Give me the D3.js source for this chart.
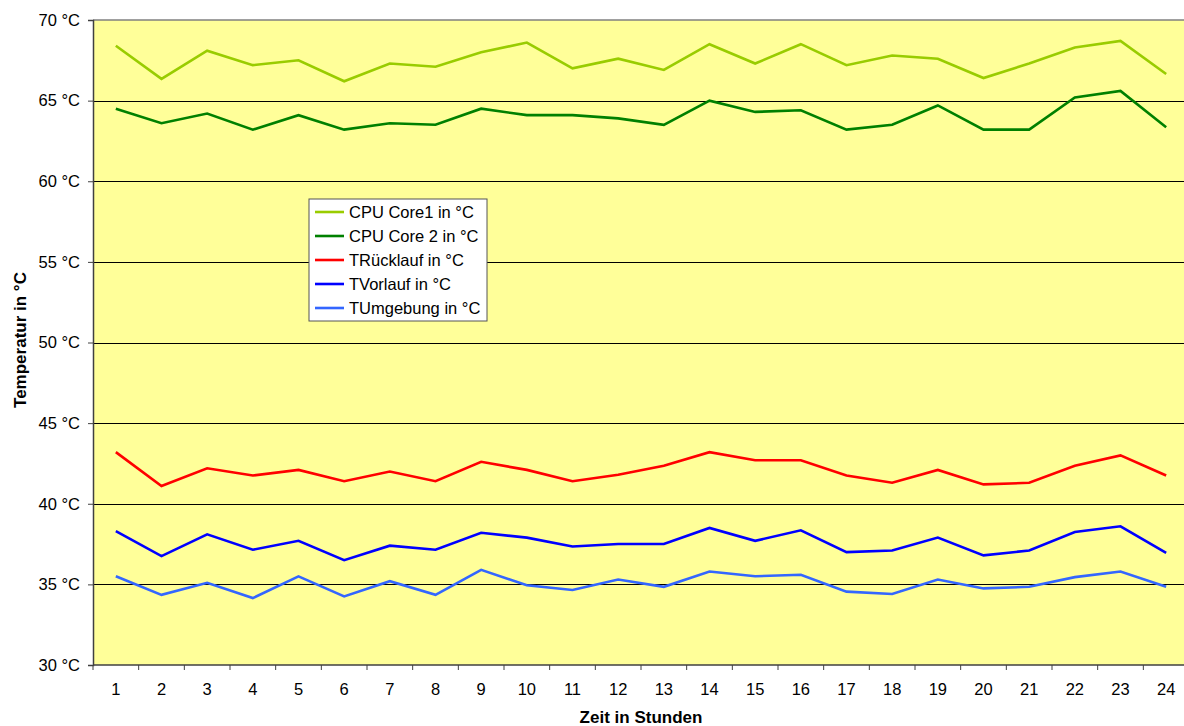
<!DOCTYPE html>
<html>
<head>
<meta charset="utf-8">
<script src="https://cdn.jsdelivr.net/npm/d3@7"></script>
<style>
  body { margin: 0; background: #fff; }
  svg text { font-family: "Liberation Sans", Arial, sans-serif; fill: #000; }
</style>
</head>
<body>
<script>
const svgW = 1184;
const svgH = 726;

// Daten
const hours = d3.range(1, 25);
const yTicks = [30, 35, 40, 45, 50, 55, 60, 65, 70];
const seriesNames = ['CPU Core1 in °C', 'CPU Core 2 in °C', 'TRücklauf in °C', 'TVorlauf in °C', 'TUmgebung in °C'];
const core1 = [68.4, 66.35, 68.1, 67.2, 67.5, 66.2, 67.3, 67.1, 68.0, 68.6, 67.0, 67.6,
               66.9, 68.5, 67.3, 68.5, 67.2, 67.8, 67.6, 66.4, 67.3, 68.3, 68.7, 66.65];
const core2 = [64.5, 63.6, 64.2, 63.2, 64.1, 63.2, 63.6, 63.5, 64.5, 64.1, 64.1, 63.9,
               63.5, 65.0, 64.3, 64.4, 63.2, 63.5, 64.7, 63.2, 63.2, 65.2, 65.6, 63.35];
const ruecklauf = [43.2, 41.1, 42.2, 41.75, 42.1, 41.4, 42.0, 41.4, 42.6, 42.1, 41.4, 41.8,
                   42.35, 43.2, 42.7, 42.7, 41.75, 41.3, 42.1, 41.2, 41.3, 42.35, 43.0, 41.75];
const vorlauf = [38.3, 36.75, 38.1, 37.15, 37.7, 36.5, 37.4, 37.15, 38.2, 37.9, 37.35, 37.5,
                 37.5, 38.5, 37.7, 38.35, 37.0, 37.1, 37.9, 36.8, 37.1, 38.25, 38.6, 36.95];
const umgebung = [35.5, 34.35, 35.1, 34.15, 35.5, 34.25, 35.2, 34.35, 35.9, 34.95, 34.65, 35.3,
                  34.85, 35.8, 35.5, 35.6, 34.55, 34.4, 35.3, 34.75, 34.85, 35.45, 35.8, 34.85];
const colors = ['#99cc00', '#008000', '#ff0000', '#0000ff', '#3366ff'];
const allSeries = [core1, core2, ruecklauf, vorlauf, umgebung];

const plotL = 93, plotR = 1189, plotT = 20, plotB = 665;
const fs = 16.5; // Schriftgröße

const svg = d3.select('body')
              .append('svg')
              .attr('width', svgW)
              .attr('height', svgH);

const xScale = d3.scaleBand()
                  .domain(hours)
                  .range([plotL, plotR]);
const yScale = d3.scaleLinear()
                  .domain([30, 70])
                  .range([plotB, plotT]);

// Hintergrund
svg.append('rect')
   .attr('x', plotL).attr('y', plotT)
   .attr('width', plotR - plotL).attr('height', plotB - plotT)
   .attr('fill', '#ffff99');

// Gitterlinien
svg.append('g')
   .selectAll('line')
   .data(yTicks.filter(d => d > 30 && d < 70))
   .enter()
   .append('line')
   .attr('x1', plotL).attr('x2', plotR)
   .attr('y1', d => Math.round(yScale(d)) + 0.5).attr('y2', d => Math.round(yScale(d)) + 0.5)
   .attr('stroke', '#000').attr('stroke-width', 1);

// obere Begrenzung
svg.append('line')
   .attr('x1', plotL).attr('x2', plotR)
   .attr('y1', yScale(70)).attr('y2', yScale(70))
   .attr('stroke', '#808080').attr('stroke-width', 1.5);

// y-Achse
const yAxis = d3.axisLeft(yScale)
                .tickValues(yTicks)
                .tickSize(5)
                .tickPadding(8)
                .tickFormat(d => d + ' °C');
const gy = svg.append('g')
   .attr('transform', `translate(${plotL}, 0)`)
   .call(yAxis);
gy.select('.domain').attr('stroke', '#404040').attr('stroke-width', 1.5);
gy.selectAll('.tick line').attr('stroke', '#404040');
gy.selectAll('.tick text').attr('font-size', fs).attr('font-family', '"Liberation Sans", Arial, sans-serif');

// x-Achse (Striche zwischen den Kategorien)
const gx = svg.append('g')
   .attr('transform', `translate(0, ${plotB})`);
gx.append('line')
  .attr('x1', plotL).attr('x2', plotR)
  .attr('stroke', '#404040').attr('stroke-width', 1.5);
gx.selectAll('.xt')
  .data(hours)
  .enter()
  .append('line')
  .attr('class', 'xt')
  .attr('x1', d => xScale(d)).attr('x2', d => xScale(d))
  .attr('y1', 0).attr('y2', 5)
  .attr('stroke', '#404040');
gx.selectAll('text')
  .data(hours)
  .enter()
  .append('text')
  .attr('x', d => xScale(d) + xScale.bandwidth() / 2)
  .attr('y', 29.5)
  .attr('text-anchor', 'middle')
  .attr('font-size', fs)
  .text(d => d);

// Linien
const line = d3.line()
               .x((d, i) => xScale(hours[i]) + xScale.bandwidth() / 2)
               .y(d => yScale(d));
svg.append('g')
   .selectAll('path')
   .data(allSeries)
   .enter()
   .append('path')
   .attr('d', line)
   .attr('fill', 'none')
   .attr('stroke', (d, i) => colors[i])
   .attr('stroke-width', 2.6)
   .attr('stroke-linejoin', 'miter');

// Achsentitel
svg.append('text')
   .attr('x', 641).attr('y', 723)
   .attr('text-anchor', 'middle')
   .attr('font-size', 17).attr('font-weight', 'bold')
   .text('Zeit in Stunden');
svg.append('text')
   .attr('transform', 'translate(26, 340) rotate(-90)')
   .attr('text-anchor', 'middle')
   .attr('font-size', 17).attr('font-weight', 'bold')
   .text('Temperatur in °C');

// Legende
const lg = svg.append('g').attr('transform', 'translate(309, 199)');
lg.append('rect')
  .attr('width', 178).attr('height', 122)
  .attr('fill', '#fff')
  .attr('stroke', '#555').attr('stroke-width', 1);
const items = lg.selectAll('.item')
  .data(seriesNames)
  .enter()
  .append('g')
  .attr('class', 'item')
  .attr('transform', (d, i) => `translate(0, ${13 + i * 24})`);
items.append('line')
  .attr('x1', 6).attr('x2', 35)
  .attr('stroke', (d, i) => colors[i])
  .attr('stroke-width', 2.6);
items.append('text')
  .attr('x', 40).attr('y', 6)
  .attr('font-size', fs)
  .text(d => d);
</script>
</body>
</html>
